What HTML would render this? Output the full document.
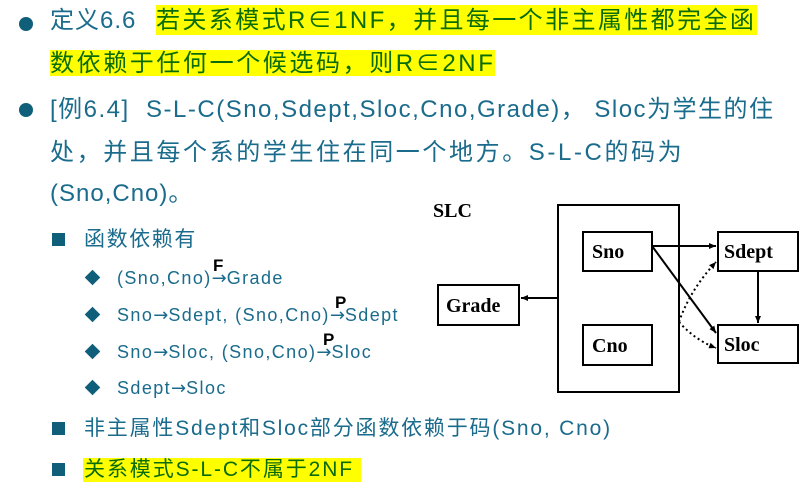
<!DOCTYPE html>
<html><head><meta charset="utf-8"><style>
html,body{margin:0;padding:0;background:#fff;width:806px;height:496px;overflow:hidden;position:relative}
.t{position:absolute;white-space:nowrap;font-family:"Liberation Sans","Noto Sans CJK SC",sans-serif;color:#1a6b8c;line-height:1}
.L{font-size:24px;letter-spacing:2.6px}
.M{font-size:21px;letter-spacing:1.6px}
.S{font-size:18px;letter-spacing:1.4px}
.ar{font-family:"DejaVu Sans",sans-serif;letter-spacing:0}
.hl{position:absolute;background:#ffff00}
.g{color:#0a6b0a}
.dot{position:absolute;width:14px;height:14px;border-radius:50%;background:#0f5f7a}
.sq{position:absolute;width:13px;height:13px;background:#0f5f7a}
.dm{position:absolute;width:11px;height:11px;background:#0f5f7a;transform:rotate(45deg)}
.sup{position:absolute;font-family:"Liberation Sans",sans-serif;font-weight:bold;color:#000;font-size:17px;line-height:1}
</style></head><body>
<div class="hl" style="left:156px;top:5px;width:601px;height:30px"></div>
<div class="hl" style="left:50px;top:50px;width:445px;height:26px"></div>
<div class="hl" style="left:83px;top:458px;width:278px;height:24px"></div>

<div class="dot" style="left:19px;top:17px"></div>
<div class="t L" style="left:50px;top:9px;letter-spacing:1px">定义6.6</div>
<div class="t L g" style="left:156px;top:9px;letter-spacing:2.4px">若关系模式R∈1NF，并且每一个非主属性都完全函</div>
<div class="t L g" style="left:50px;top:52px;letter-spacing:2.6px">数依赖于任何一个候选码，则R∈2NF</div>
<div class="dot" style="left:19px;top:103px"></div>
<div class="t L" style="left:50px;top:98px;letter-spacing:1.5px">[例6.4]&nbsp; S-L-C(Sno,Sdept,Sloc,Cno,Grade)，&nbsp;Sloc为学生的住</div>
<div class="t L" style="left:50px;top:141px;letter-spacing:2.6px">处，并且每个系的学生住在同一个地方。S-L-C的码为</div>
<div class="t L" style="left:50px;top:182px;letter-spacing:1px">(Sno,Cno)。</div>

<div class="sq" style="left:52px;top:233px"></div>
<div class="t M" style="left:84px;top:229px">函数依赖有</div>
<div class="dm" style="left:87px;top:272px"></div>
<div class="t S" style="left:117px;top:269px">(Sno,Cno)<span class="ar">→</span>Grade</div>
<div class="sup" style="left:213px;top:257px">F</div>
<div class="dm" style="left:87px;top:309px"></div>
<div class="t S" style="left:117px;top:306px">Sno<span class="ar">→</span>Sdept, (Sno,Cno)<span class="ar">→</span>Sdept</div>
<div class="sup" style="left:335px;top:294px">P</div>
<div class="dm" style="left:87px;top:346px"></div>
<div class="t S" style="left:117px;top:343px">Sno<span class="ar">→</span>Sloc, (Sno,Cno)<span class="ar">→</span>Sloc</div>
<div class="sup" style="left:323px;top:331px">P</div>
<div class="dm" style="left:87px;top:382px"></div>
<div class="t S" style="left:117px;top:379px">Sdept<span class="ar">→</span>Sloc</div>
<div class="sq" style="left:52px;top:422px"></div>
<div class="t M" style="left:84px;top:418px;letter-spacing:1.8px">非主属性Sdept和Sloc部分函数依赖于码(Sno, Cno)</div>
<div class="sq" style="left:52px;top:463px"></div>
<div class="t M g" style="left:84px;top:459px;letter-spacing:1.9px">关系模式S-L-C不属于2NF</div>

<svg style="position:absolute;left:0;top:0" width="806" height="496">
<defs><marker id="a" markerWidth="8" markerHeight="8" refX="7" refY="4" orient="auto" markerUnits="userSpaceOnUse"><path d="M0,1 L7,4 L0,7 Z" fill="#000"/></marker></defs>
<g font-family="Liberation Serif,serif" font-weight="bold" font-size="20" fill="#000">
<text x="433" y="217">SLC</text>
</g>
<g fill="none" stroke="#000" stroke-width="2">
<rect x="558" y="205" width="121" height="187"/>
<rect x="583" y="232" width="69" height="39"/>
<rect x="583" y="325" width="69" height="40"/>
<rect x="438" y="285" width="81" height="40"/>
<rect x="718" y="232" width="80" height="39"/>
<rect x="718" y="325" width="80" height="38"/>
<line x1="558" y1="298" x2="521" y2="298" marker-end="url(#a)"/>
<line x1="652" y1="246" x2="716" y2="246" marker-end="url(#a)"/>
<line x1="652" y1="246" x2="716" y2="333" marker-end="url(#a)"/>
<line x1="758" y1="271" x2="758" y2="323" marker-end="url(#a)"/>
<path d="M679,322 Q690,290 716,262" stroke-dasharray="2,3" marker-end="url(#a)"/>
<path d="M679,322 Q695,340 716,348" stroke-dasharray="2,3" marker-end="url(#a)"/>
</g>
<g font-family="Liberation Serif,serif" font-weight="bold" font-size="20" fill="#000">
<text x="592" y="258">Sno</text>
<text x="592" y="352">Cno</text>
<text x="446" y="312">Grade</text>
<text x="724" y="258">Sdept</text>
<text x="724" y="351">Sloc</text>
</g>
</svg>
</body></html>
